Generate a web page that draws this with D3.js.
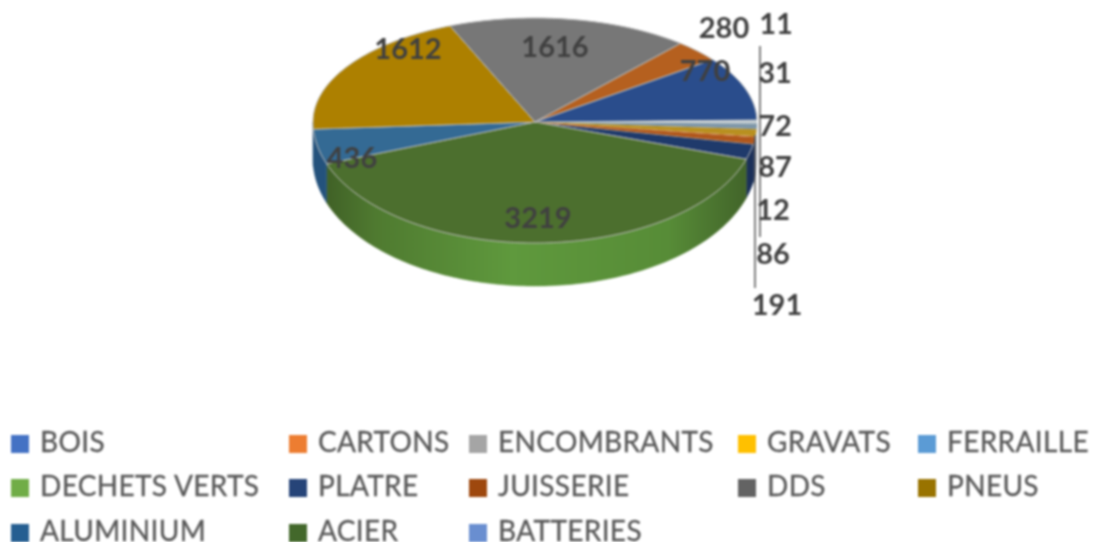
<!DOCTYPE html>
<html>
<head>
<meta charset="utf-8">
<script src="https://cdnjs.cloudflare.com/ajax/libs/d3/7.8.5/d3.min.js"></script>
<style>
html, body { margin: 0; padding: 0; background: #fff; overflow: hidden; }
svg { display: block; filter: blur(0.8px); }
text { font-family: Lato, "Open Sans", sans-serif; }
</style>
</head>
<body>
<svg id="chart" width="1094" height="542"></svg>
<script>
// legend order
var categories = ["BOIS", "CARTONS", "ENCOMBRANTS", "GRAVATS", "FERRAILLE",
  "DECHETS VERTS", "PLATRE", "JUISSERIE", "DDS", "PNEUS",
  "ALUMINIUM", "ACIER", "BATTERIES"];
var values = [86, 12, 87, 72, 31, 11, 770, 280, 1616, 1612, 436, 3219, 191];

var legendColors = ["#4472c4", "#ed7d31", "#a5a5a5", "#ffc000", "#5b9bd5",
  "#70ad47", "#264478", "#9e480e", "#636363", "#997300",
  "#255e91", "#43682b", "#698ed0"];
// colours the slices show on the picture (shaded top face)
var topColors = ["#b0571c", "#c8782a", "#b89020", "#7f97a8", "#c3ccd0",
  "#c3ccd0", "#2a4d8c", "#b5601f", "#777777", "#ad8000",
  "#346a94", "#4c6f2e", "#1f3a6b"];
var sideColors = ["#1b3059", "#d4d8dc", "#d4d8dc", "#d4d8dc", "#d4d8dc",
  "#d4d8dc", "#d4d8dc", "#8f4616", "#5a5a5a", "#24527c",
  "#24527c", "url(#greenSide)", "#1b3059"];

// layout of the value labels, same order as categories
var labelX = [773, 773, 775, 775, 775, 776, 705, 724, 555, 408, 352, 538, 777];
var labelY = [254, 210, 167, 126, 73, 24, 71, 28, 47, 49, 158, 218, 305];

var cx = 535, cy = 122, rx = 222, ryBack = 104, ryFront = 121;
var deg = Math.PI / 180;

var svg = d3.select("#chart");

var defs = svg.append("defs");
var grad = defs.append("linearGradient").attr("id", "greenSide")
  .attr("gradientUnits", "userSpaceOnUse")
  .attr("x1", cx - rx).attr("x2", cx + rx).attr("y1", 0).attr("y2", 0);
[[0, "#3c5a24"], [0.14, "#4f7a30"], [0.45, "#5f993d"], [0.8, "#578c37"], [1, "#3f5f28"]].forEach(function(s) {
  grad.append("stop").attr("offset", s[0]).attr("stop-color", s[1]);
});

// pie angle to screen point: the tilt squeezes the far half and stretches the near one
function project(a, depth) {
  var t = a - 3.2 * deg * Math.abs(Math.sin(2 * a)) * (Math.sin(a) < 0 ? -1 : 1);
  var c = Math.cos(t);
  var ry = c > 0 ? ryBack : ryFront;
  var d = depth ? 37 + 6 * Math.abs(c) : 0;
  return [cx + rx * Math.sin(t), cy - ry * c + d];
}

function arcPoints(a0, a1, depth) {
  var n = Math.max(2, Math.ceil(Math.abs(a1 - a0) / deg));
  return d3.range(n + 1).map(function(i) {
    return project(a0 + (a1 - a0) * i / n, depth);
  });
}

var line = d3.line();

// clockwise the slices run in reverse legend order, starting from BATTERIES
var order = d3.range(categories.length).reverse();
var pie = d3.pie().sort(null)
  .value(function(i) { return values[i]; })
  .startAngle(101.8 * deg).endAngle(461.8 * deg);
var slices = pie(order);

// outer wall, only the part facing the viewer
var wall = svg.append("g");
slices.forEach(function(s) {
  [0, 2 * Math.PI].forEach(function(turn) {
    var a0 = Math.max(s.startAngle - turn, 90 * deg);
    var a1 = Math.min(s.endAngle - turn, 270 * deg);
    if (a1 <= a0) return;
    var pts = arcPoints(a0, a1, false).concat(arcPoints(a1, a0, true));
    wall.append("path")
      .attr("d", line(pts) + "Z")
      .attr("fill", sideColors[s.data])
      .attr("stroke", sideColors[s.data])
      .attr("stroke-width", 0.5);
  });
});

// top face
svg.append("g").selectAll("path")
  .data(slices)
  .enter().append("path")
  .attr("d", function(s) {
    return line([[cx, cy]].concat(arcPoints(s.startAngle, s.endAngle, false))) + "Z";
  })
  .attr("fill", function(s) { return topColors[s.data]; })
  .attr("stroke", "#b8b8b8")
  .attr("stroke-width", function(s) { return values[s.data] < 100 ? 0 : 1; });

// leader lines
var leaders = [[760, 46, 237], [755, 135, 288]];
svg.append("g").selectAll("line")
  .data(leaders)
  .enter().append("line")
  .attr("x1", function(d) { return d[0]; })
  .attr("x2", function(d) { return d[0]; })
  .attr("y1", function(d) { return d[1]; })
  .attr("y2", function(d) { return d[2]; })
  .attr("stroke", "#555")
  .attr("stroke-width", 1.5);

// value labels
svg.append("g").selectAll("text")
  .data(d3.range(values.length))
  .enter().append("text")
  .attr("x", function(i) { return labelX[i]; })
  .attr("y", function(i) { return labelY[i]; })
  .attr("dy", "0.36em")
  .attr("text-anchor", "middle")
  .attr("font-size", 29)
  .attr("font-weight", 700)
  .attr("fill", "#404040")
  .text(function(i) { return values[i]; });

// legend
var legendCols = [11, 289, 469, 738, 918];
var legendRows = [442, 486, 531];
var legend = svg.append("g").selectAll("g")
  .data(d3.range(categories.length))
  .enter().append("g")
  .attr("transform", function(i) {
    return "translate(" + legendCols[i % 5] + "," + legendRows[Math.floor(i / 5)] + ")";
  });
legend.append("rect")
  .attr("y", -7).attr("width", 18).attr("height", 18)
  .attr("fill", function(i) { return legendColors[i]; });
legend.append("text")
  .attr("x", 29)
  .attr("dy", "0.36em")
  .attr("font-size", 28)
  .attr("letter-spacing", 0.35)
  .attr("fill", "#595959")
  .attr("stroke", "#595959")
  .attr("stroke-width", 0.3)
  .text(function(i) { return categories[i]; });
</script>
</body>
</html>
